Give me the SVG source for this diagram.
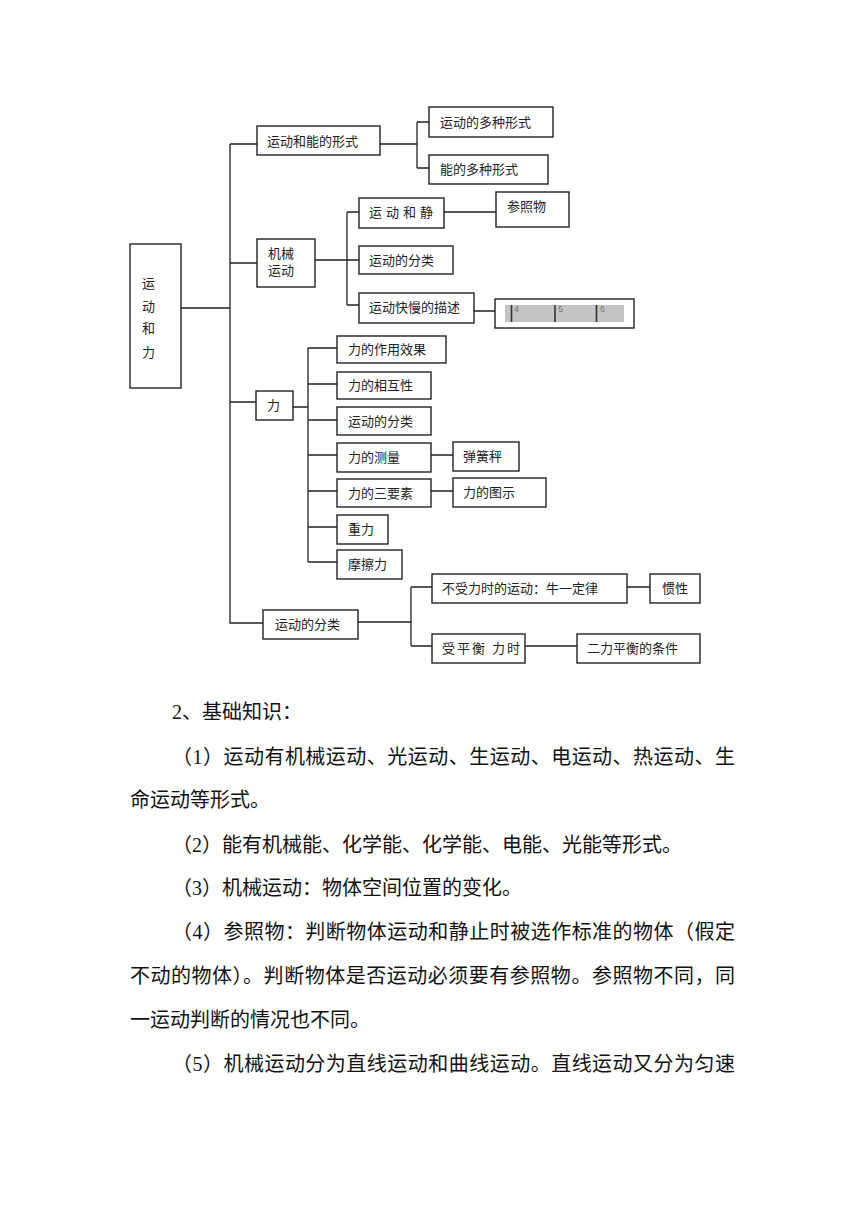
<svg xmlns="http://www.w3.org/2000/svg" width="860" height="1216" viewBox="0 0 860 1216">
<style>
.b{fill:#fff;stroke:#222;stroke-width:1.4}
.t{font-family:"Noto Sans CJK SC","Noto Sans",sans-serif;font-size:13px;fill:#222}
.c{fill:none;stroke:#222;stroke-width:1.3}
.p{font-family:"Liberation Serif","Noto Sans CJK SC",serif;font-size:20px;fill:#111}
.r{font-family:"Liberation Sans",sans-serif;font-size:9px;fill:#777}
</style>
<rect width="860" height="1216" fill="#fff"/>
<g id="connectors" class="c">
<path d="M181 308H230M230 144V623H263M230 144H257M230 263H257M230 402H256"/>
<path d="M380 144H417M417 122V168M417 122H429M417 168H429"/>
<path d="M315 260H347M347 212V305M347 212H359M347 260H359M347 305H359M444 212H496M474 311H495"/>
<path d="M293 407H308M308 348V562M308 348H337M308 384H337M308 420H337M308 455H337M308 491H337M308 527H337M308 562H337M431 455H453M431 491H453"/>
<path d="M358 622H411M411 587V646M411 587H432M411 646H432M627 587H650M525 646H577"/>
</g>
<g id="n-root"><rect class="b" x="130" y="244" width="51" height="144"/><text class="t" x="142" y="288">运</text><text class="t" x="142" y="311">动</text><text class="t" x="142" y="333">和</text><text class="t" x="142" y="357">力</text></g>
<g id="n-xingshi"><rect class="b" x="257" y="126" width="123" height="29"/><text class="t" x="267" y="146">运动和能的形式</text></g>
<g id="n-yundong-duo"><rect class="b" x="429" y="107" width="124" height="30"/><text class="t" x="440" y="127">运动的多种形式</text></g>
<g id="n-neng-duo"><rect class="b" x="429" y="155" width="119" height="29"/><text class="t" x="440" y="174">能的多种形式</text></g>
<g id="n-jixie"><rect class="b" x="257" y="239" width="58" height="48"/><text class="t" x="268" y="258">机械</text><text class="t" x="268" y="275">运动</text></g>
<g id="n-jing"><rect class="b" x="359" y="198" width="85" height="30"/><text class="t" x="369" y="217" letter-spacing="4">运动和静</text></g>
<g id="n-canzhao"><rect class="b" x="496" y="192" width="73" height="35"/><text class="t" x="507" y="211">参照物</text></g>
<g id="n-fenlei1"><rect class="b" x="359" y="246" width="94" height="28"/><text class="t" x="369" y="265">运动的分类</text></g>
<g id="n-kuaiman"><rect class="b" x="359" y="293" width="115" height="30"/><text class="t" x="369" y="312">运动快慢的描述</text></g>
<g id="n-ruler"><rect class="b" x="495" y="299" width="139" height="29"/><rect x="505" y="305" width="119" height="17" fill="#c4c4c4"/><path d="M511.5 305V322M555 305V322M596.5 305V322" stroke="#333" stroke-width="1.6"/><text class="r" x="514" y="312">4</text><text class="r" x="558" y="312">5</text><text class="r" x="600" y="312">6</text></g>
<g id="n-li"><rect class="b" x="256" y="391" width="37" height="29"/><text class="t" x="267" y="410">力</text></g>
<g id="n-xiaoguo"><rect class="b" x="337" y="336" width="109" height="27"/><text class="t" x="348" y="354">力的作用效果</text></g>
<g id="n-xianghu"><rect class="b" x="337" y="372" width="94" height="27"/><text class="t" x="348" y="390">力的相互性</text></g>
<g id="n-fenlei2"><rect class="b" x="337" y="407" width="94" height="28"/><text class="t" x="348" y="426">运动的分类</text></g>
<g id="n-celiang"><rect class="b" x="337" y="443" width="94" height="29"/><text class="t" x="348" y="462">力的测量</text></g>
<g id="n-sanyaosu"><rect class="b" x="337" y="479" width="94" height="28"/><text class="t" x="348" y="498">力的三要素</text></g>
<g id="n-zhongli"><rect class="b" x="337" y="515" width="51" height="29"/><text class="t" x="348" y="534">重力</text></g>
<g id="n-moca"><rect class="b" x="337" y="550" width="65" height="29"/><text class="t" x="348" y="569">摩擦力</text></g>
<g id="n-tanhuang"><rect class="b" x="453" y="442" width="66" height="29"/><text class="t" x="463" y="461">弹簧秤</text></g>
<g id="n-tushi"><rect class="b" x="453" y="478" width="93" height="29"/><text class="t" x="463" y="497">力的图示</text></g>
<g id="n-fenlei3"><rect class="b" x="263" y="610" width="95" height="29"/><text class="t" x="275" y="629">运动的分类</text></g>
<g id="n-niuyi"><rect class="b" x="432" y="574" width="195" height="29"/><text class="t" x="442" y="593">不受力时的运动：牛一定律</text></g>
<g id="n-guanxing"><rect class="b" x="650" y="574" width="50" height="29"/><text class="t" x="662" y="593">惯性</text></g>
<g id="n-pingheng"><rect class="b" x="432" y="634" width="93" height="29"/><text class="t" x="442" y="653" letter-spacing="2">受平衡 力时</text></g>
<g id="n-tiaojian"><rect class="b" x="577" y="634" width="123" height="29"/><text class="t" x="587" y="653">二力平衡的条件</text></g>
<g id="body">
<text class="p" x="172" y="719">2、基础知识：</text>
<text class="p" x="172" y="764" textLength="563" lengthAdjust="spacing">（1）运动有机械运动、光运动、生运动、电运动、热运动、生</text>
<text class="p" x="130" y="807">命运动等形式。</text>
<text class="p" x="172" y="852">（2）能有机械能、化学能、化学能、电能、光能等形式。</text>
<text class="p" x="172" y="895">（3）机械运动：物体空间位置的变化。</text>
<text class="p" x="172" y="939" textLength="563" lengthAdjust="spacing">（4）参照物：判断物体运动和静止时被选作标准的物体（假定</text>
<text class="p" x="130" y="983" textLength="605" lengthAdjust="spacing">不动的物体）。判断物体是否运动必须要有参照物。参照物不同，同</text>
<text class="p" x="130" y="1027">一运动判断的情况也不同。</text>
<text class="p" x="172" y="1071" textLength="563" lengthAdjust="spacing">（5）机械运动分为直线运动和曲线运动。直线运动又分为匀速</text>
</g>
</svg>
